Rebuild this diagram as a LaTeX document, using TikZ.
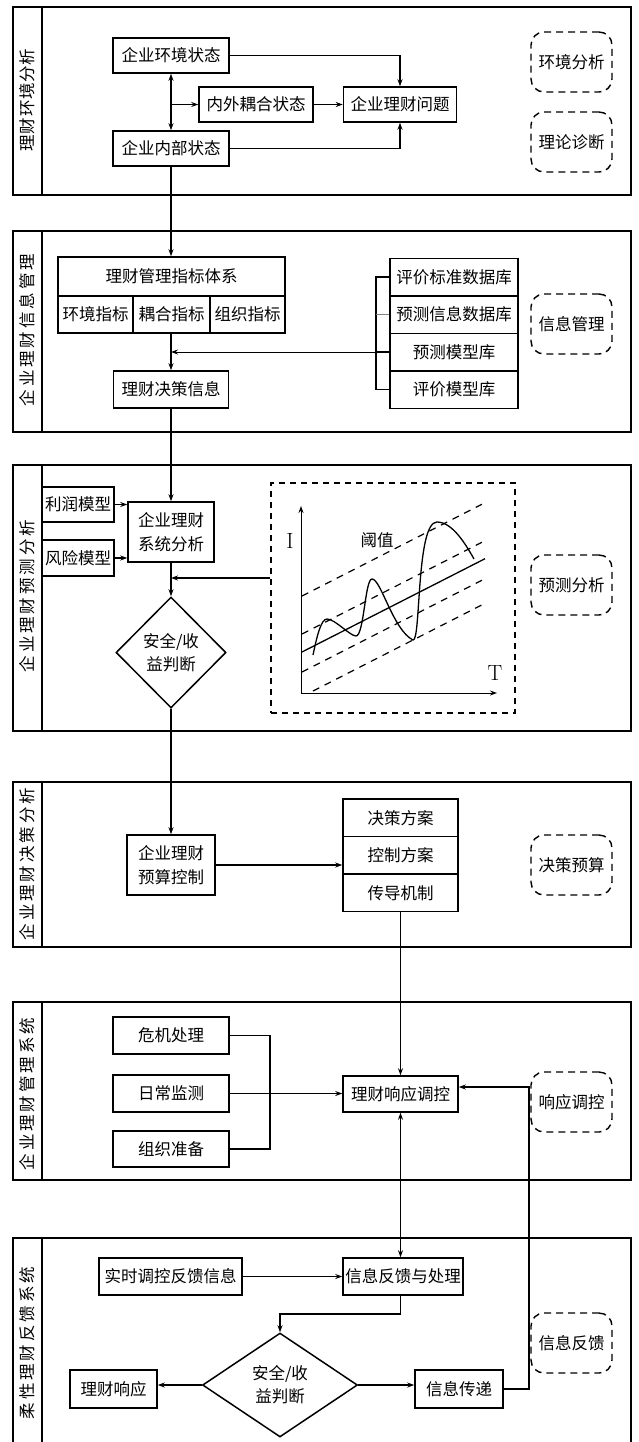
\documentclass[tikz,border=0pt]{standalone}
\usepackage{fontspec}
\newfontfamily\cjk{Noto Sans CJK SC}
\newfontfamily\cjkA{Noto Sans CJK SC}[LetterSpace=4]
\newfontfamily\cjkB{Noto Sans CJK SC}[LetterSpace=18]
\usetikzlibrary{arrows.meta,shapes.geometric}
\tikzset{
 bx/.style={draw, line width=1.5pt, inner sep=0pt, font=\cjk\fontsize{16.5}{24}\selectfont, align=center},
 dbox/.style={draw, line width=1.4pt, dash pattern=on 7pt off 5pt, rounded corners=13pt, minimum width=81pt, minimum height=60pt, inner sep=0pt, font=\cjk\fontsize{16.5}{20}\selectfont},
 panel/.style={draw, line width=1.3pt},
 conn/.style={line width=1.3pt},
 arr/.style={conn, -{Stealth[length=7pt,width=5pt]}},
 darr/.style={conn, {Stealth[length=7pt,width=5pt]}-{Stealth[length=7pt,width=5pt]}},
 lblA/.style={rotate=90, font=\cjkA\fontsize{16.5}{20}\selectfont, inner sep=0pt},
 lblB/.style={rotate=90, font=\cjkB\fontsize{16.5}{20}\selectfont, inner sep=0pt},
 dia/.style={draw, diamond, line width=1.5pt, inner sep=0pt, aspect=1, font=\cjk\fontsize{16.5}{23}\selectfont, align=center},
 dline/.style={line width=1.2pt, dash pattern=on 7pt off 6pt},
}
\begin{document}
\begin{tikzpicture}[x=1pt,y=-1pt]
\useasboundingbox (0,0) rectangle (638,1442);
\fill[white] (0,0) rectangle (638,1442);

% panels
\foreach \a/\b in {7/195, 231/432, 465/731, 782/947, 1002/1180} {
 \draw[panel] (13,\a) rectangle (631,\b);
 \draw[panel] (42,\a) -- (42,\b);
}
\draw[panel] (13,1448) -- (13,1238) -- (631,1238) -- (631,1448);
\draw[panel] (42,1238) -- (42,1448);

% side labels
\node[lblA] (L1) at (27.5,100) {理财环境分析};
\node[lblB] (L2) at (27.5,330) {企业理财信息管理};
\node[lblB] (L3) at (27.5,596) {企业理财预测分析};
\node[lblB] (L4) at (27.5,864) {企业理财决策分析};
\node[lblB] (L5) at (27.5,1094) {企业理财管理系统};
\node[lblB] (L6) at (27.5,1343) {柔性理财反馈系统};

% ---------- panel 1
\node[bx, minimum width=116pt, minimum height=35pt] (env) at (171,55.5) {企业环境状态};
\node[bx, minimum width=114pt, minimum height=35pt] (cpl) at (256,104.5) {内外耦合状态};
\node[bx, minimum width=113pt, minimum height=35pt] (prob) at (400,104.5) {企业理财问题};
\node[bx, minimum width=116pt, minimum height=35pt] (inn) at (171,148.5) {企业内部状态};
\node[dbox] (da1) at (571.5,62) {环境分析};
\node[dbox] (da2) at (571.5,142) {理论诊断};
\draw[darr] (env.south) -- (inn.north);
\draw[arr] (env.south |- cpl.west) -- (cpl.west);
\draw[arr] (cpl.east) -- (prob.west);
\draw[arr] (env.east) -| (prob.north);
\draw[arr] (inn.east) -| (prob.south);

% ---------- panel 2
\node[bx, minimum width=227pt, minimum height=39pt] (ind) at (171.5,276.5) {理财管理指标体系};
\node[bx, minimum width=75pt, minimum height=37pt] (c1) at (95.5,314.5) {环境指标};
\node[bx, minimum width=77pt, minimum height=37pt] (c2) at (171.5,314.5) {耦合指标};
\node[bx, minimum width=75pt, minimum height=37pt] (c3) at (247.5,314.5) {组织指标};
\node[bx, minimum width=115pt, minimum height=37pt] (dec) at (171,389.5) {理财决策信息};
\draw[arr] (inn.south) -- (inn.south |- ind.north);
\draw[arr] (c2.south -| dec.north) -- (dec.north);
\node[bx, minimum width=128pt, minimum height=37.5pt] (s1) at (454,277) {评价标准数据库};
\node[bx, minimum width=128pt, minimum height=37.5pt] (s2) at (454,314.5) {预测信息数据库};
\node[bx, minimum width=128pt, minimum height=37.5pt] (s3) at (454,352) {预测模型库};
\node[bx, minimum width=128pt, minimum height=37.5pt] (s4) at (454,389.5) {评价模型库};
\coordinate (bk) at (376,352);
\draw[conn] (s1.west) -- (s1.west -| bk) -- (s4.west -| bk) -- (s4.west);
\draw[gray, line width=0.8pt] (s2.west) -- (s2.west -| bk);
\draw[conn] (s3.west) -- (bk);
\draw[arr, line width=1pt] (bk) -- (bk -| dec.north);
\node[dbox] (da3) at (571.5,324) {信息管理};

% ---------- panel 3
\node[bx, minimum width=86pt, minimum height=60pt] (sys) at (171,532) {企业理财\\系统分析};
\node[bx, minimum width=72pt, minimum height=35pt] (prof) at (78,504.5) {利润模型};
\node[bx, minimum width=72pt, minimum height=36pt] (risk) at (78,558) {风险模型};
\draw[arr] (dec.south) -- (sys.north);
\draw[arr] (prof.east) -- (prof.east -| sys.west);
\draw[arr] (risk.east) -- (risk.east -| sys.west);
\node[dia, minimum width=110pt, minimum height=111pt] (d1) at (171,652.5) {安全/收\\益判断};
\draw[arr] (sys.south) -- (d1.north);
\node[draw, dash pattern=on 6pt off 5pt, line width=1.2pt, minimum width=244pt, minimum height=230pt, inner sep=0pt] (gbox) at (393,598) {};
\coordinate (gy) at (0,578);
\draw[arr] (gbox.west |- gy) -- (gy -| sys.south);
\node[dbox] (da4) at (571.5,585) {预测分析};

% chart
\draw[arr, line width=1pt] (301,693) -- (301,506);
\draw[arr, line width=1pt] (301,693) -- (497,693);
\node[font=\fontsize{22}{22}\selectfont, inner sep=0pt] (I) at (290,541) {I};
\node[font=\fontsize{22}{22}\selectfont, inner sep=0pt] (T) at (495,673) {T};
\node[font=\cjk\fontsize{16.5}{20}\selectfont, inner sep=0pt] (thr) at (377,540) {阈值};
\draw[dline] (302,596) -- (485,502.7);
\draw[dline] (302,634) -- (485,540.7);
\draw[line width=1.3pt] (302,652) -- (485,558.7);
\draw[dline] (302,672) -- (485,578.7);
\draw[dline] (313,691) -- (485,603.3);
\draw[line width=1.3pt] (313,655) .. controls (317,636) and (321,619) .. (327,619)
 .. controls (335,619) and (350,636) .. (356,636)
 .. controls (364,636) and (365,579) .. (372,579)
 .. controls (381,579) and (393,630) .. (413,640)
 .. controls (421,642) and (416,522) .. (437,522)
 .. controls (452,522) and (465,543) .. (474,559);

% ---------- panel 4
\node[bx, minimum width=88pt, minimum height=60pt] (bud) at (171,865) {企业理财\\预算控制};
\draw[arr] (d1.south) -- (bud.north);
\node[bx, minimum width=115pt, minimum height=37.5pt] (p1) at (400.5,817.75) {决策方案};
\node[bx, minimum width=115pt, minimum height=37.5pt] (p2) at (400.5,855.25) {控制方案};
\node[bx, minimum width=115pt, minimum height=37.5pt] (p3) at (400.5,892.75) {传导机制};
\draw[arr] (bud.east) -- (bud.east -| p2.west);
\node[dbox] (da5) at (571.5,865) {决策预算};

% ---------- panel 5
\node[bx, minimum width=116pt, minimum height=37pt] (cr) at (171,1035.5) {危机处理};
\node[bx, minimum width=116pt, minimum height=37pt] (dm) at (171,1093.5) {日常监测};
\node[bx, minimum width=116pt, minimum height=36pt] (og) at (171,1149) {组织准备};
\node[bx, minimum width=115pt, minimum height=36pt] (rc) at (400.5,1094) {理财响应调控};
\draw[arr] (p3.south) -- (rc.north);
\coordinate (bx5) at (270,1094);
\draw[conn] (cr.east) -| (bx5) |- (og.east);
\draw[arr] (dm.east) -- (dm.east -| rc.west);
\node[dbox] (da6) at (571.5,1102) {响应调控};

% ---------- panel 6
\node[bx, minimum width=143pt, minimum height=37pt] (rt) at (170.5,1276.5) {实时调控反馈信息};
\node[bx, minimum width=120pt, minimum height=37pt] (fb) at (403,1276.5) {信息反馈与处理};
\draw[darr] (rc.south) -- (rc.south |- fb.north);
\draw[arr] (rt.east) -- (fb.west);
\node[dia, minimum width=155pt, minimum height=104pt, aspect=1.5] (d2) at (280,1385) {安全/收\\益判断};
\coordinate (fbk) at (0,1314);
\draw[arr] (rc.south |- fb.south) -- (rc.south |- fbk) -| (d2.north);
\node[bx, minimum width=87pt, minimum height=38pt] (rs) at (113.5,1389) {理财响应};
\node[bx, minimum width=88pt, minimum height=38pt] (tr) at (459,1389) {信息传递};
\draw[arr] (d2.west) -- (d2.west -| rs.east);
\draw[arr] (d2.east) -- (d2.east -| tr.west);
\coordinate (rx) at (529,1087);
\draw[arr] (tr.east) -| (rx) -- (rx -| rc.east);
\node[dbox] (da7) at (571.5,1343) {信息反馈};
\end{tikzpicture}
\end{document}
